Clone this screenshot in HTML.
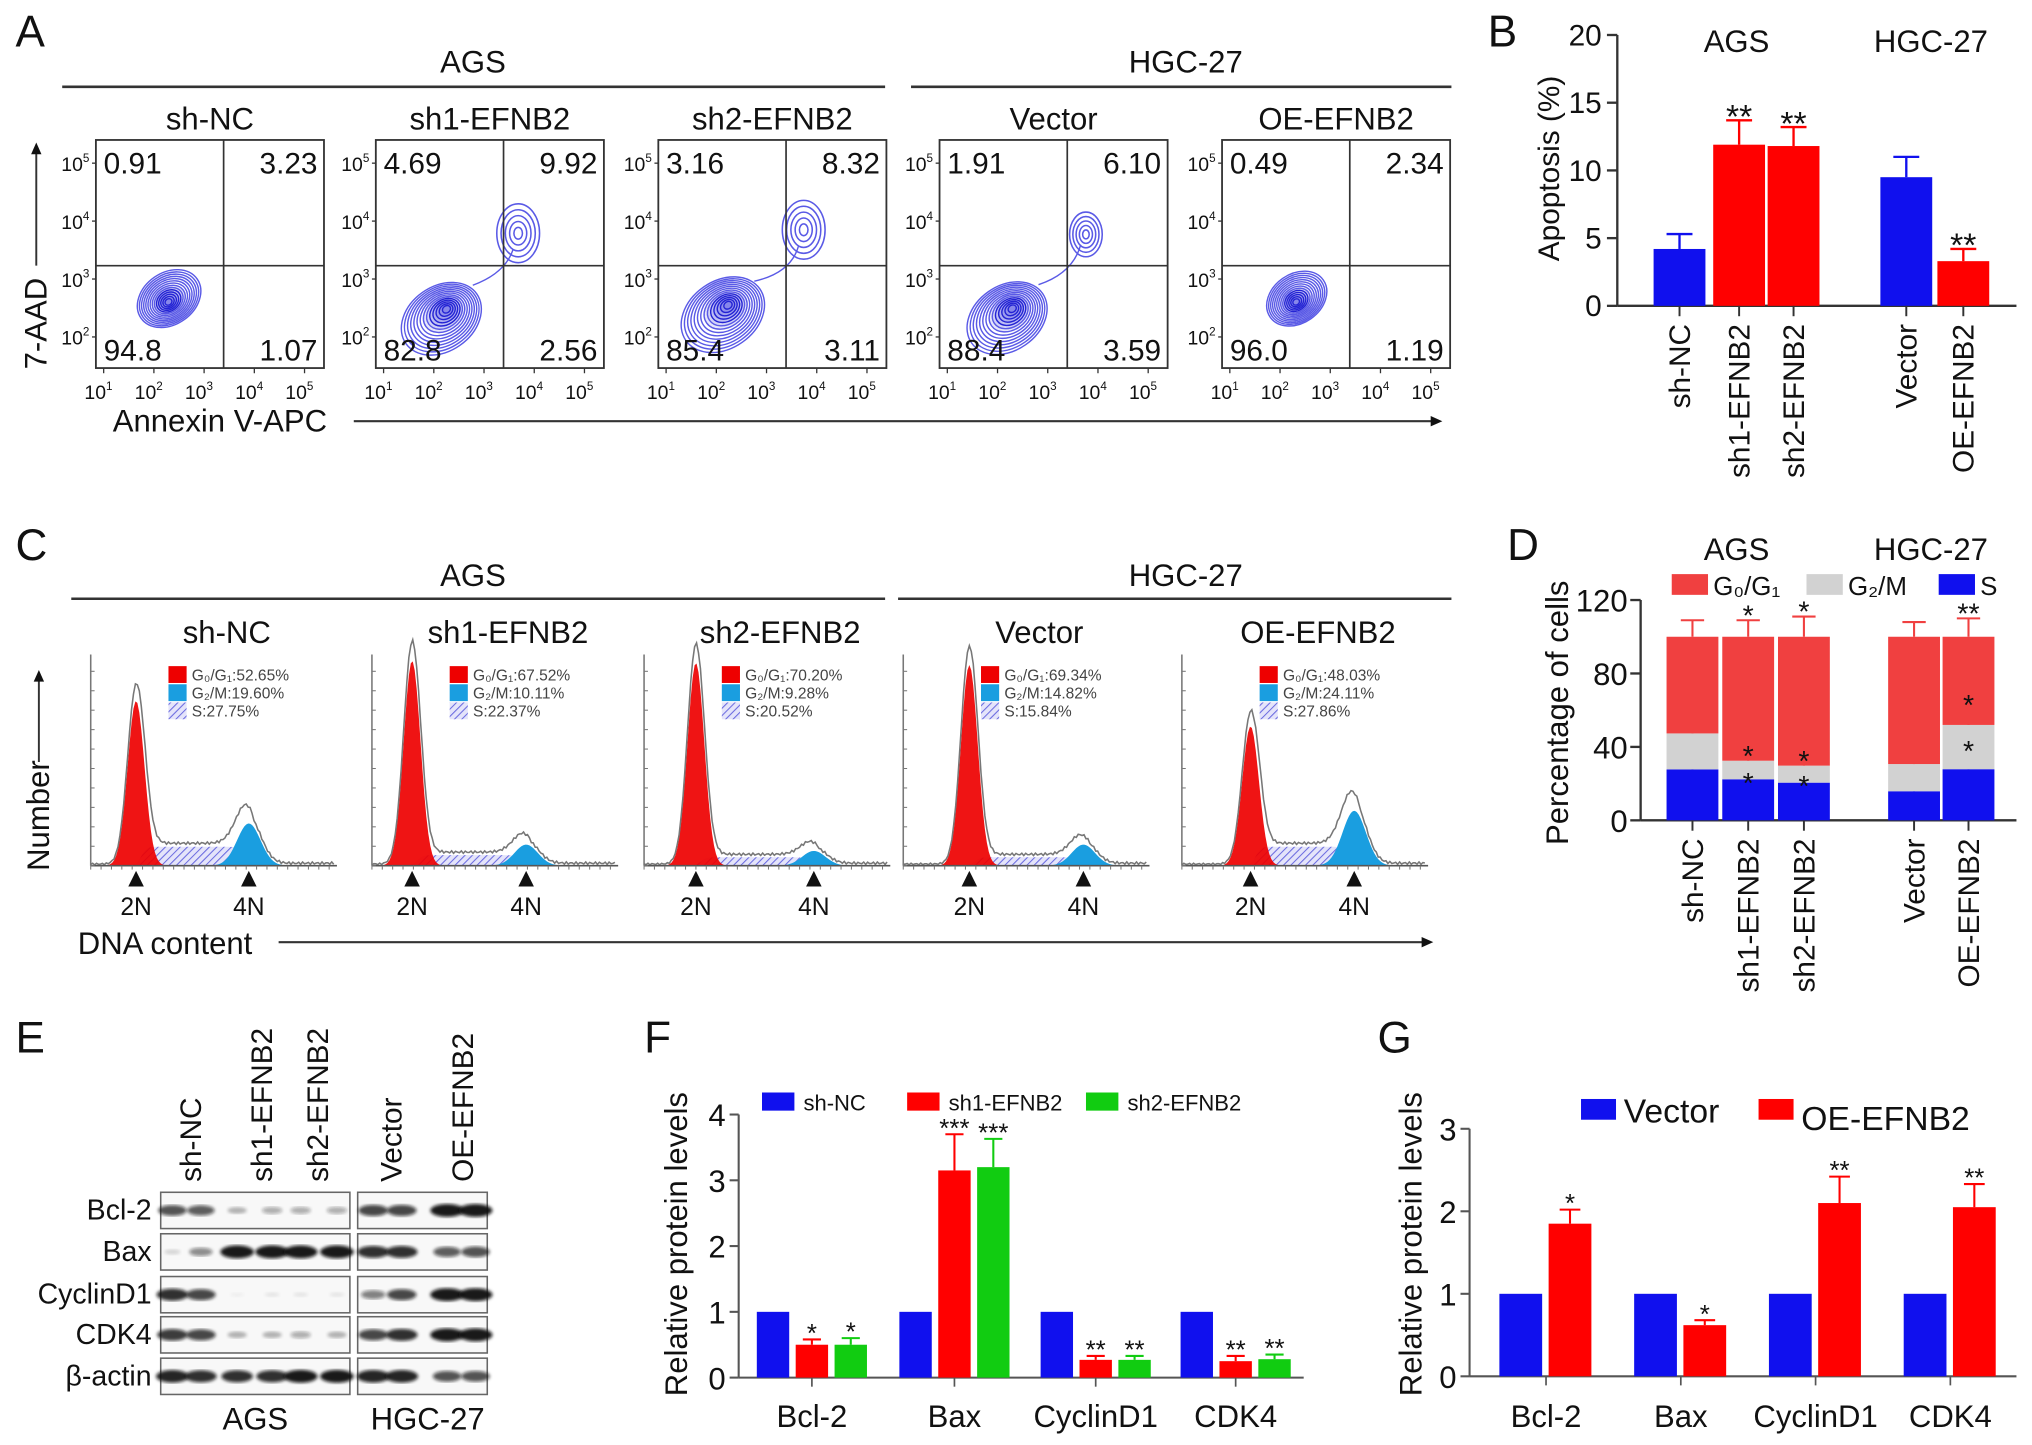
<!DOCTYPE html>
<html><head><meta charset="utf-8">
<style>
html,body{margin:0;padding:0;background:#fff;}
svg{display:block;font-family:"Liberation Sans Narrow","Liberation Sans",sans-serif;}
.n{font-family:"Liberation Sans",sans-serif;}
</style></head>
<body>
<svg id="fig" width="2032" height="1445" viewBox="0 0 1568 1115" preserveAspectRatio="none" xmlns="http://www.w3.org/2000/svg">
<defs>
<pattern id="hatch" patternUnits="userSpaceOnUse" width="4" height="4" patternTransform="rotate(45)">
<rect width="4" height="4" fill="#e4e4fa"/><line x1="0" y1="0" x2="0" y2="4" stroke="#6a6ae0" stroke-width="1.6"/>
</pattern>
<filter id="blur"><feGaussianBlur stdDeviation="1.3"/></filter>
</defs>
<g id="root"></g>
</svg>
<script>
// ---------- DATA ----------
const flowGroups = ["sh-NC","sh1-EFNB2","sh2-EFNB2","Vector","OE-EFNB2"];
const flowQuadUL = ["0.91","4.69","3.16","1.91","0.49"];
const flowQuadUR = ["3.23","9.92","8.32","6.10","2.34"];
const flowQuadLL = ["94.8","82.8","85.4","88.4","96.0"];
const flowQuadLR = ["1.07","2.56","3.11","3.59","1.19"];
const mainClusterX = [2.29,2.26,2.24,2.3,2.32];
const mainClusterY = [2.6,2.49,2.56,2.5,2.6];
const mainClusterSize = [0.55,0.8,0.85,0.8,0.5];
const lateClusterX = [null,3.68,3.74,3.76,null];
const lateClusterY = [null,3.79,3.85,3.77,null];
const lateClusterSize = [0,0.35,0.35,0.22,0];

const apopCats = ["sh-NC","sh1-EFNB2","sh2-EFNB2","Vector","OE-EFNB2"];
const apopVals = [4.2,11.9,11.8,9.5,3.3];
const apopErr = [1.1,1.8,1.4,1.5,0.9];
const apopSig = ["","**","**","","**"];
const apopTicks = [0,5,10,15,20];

const cycleG1Peak = [78,97,96,95,66];
const cycleG2Peak = [20,10,7,10,26];
const cycleSLevel = [9,5,4,4,9];
const cycleG1Text = ["52.65","67.52","70.20","69.34","48.03"];
const cycleG2Text = ["19.60","10.11","9.28","14.82","24.11"];
const cycleSText = ["27.75","22.37","20.52","15.84","27.86"];

const stackS = [27.75,22.37,20.52,15.84,27.86];
const stackG2 = [19.6,10.11,9.28,14.82,24.11];
const stackG1 = [52.65,67.52,70.2,69.34,48.03];
const stackErrS = [3,2.5,2.5,2,3];
const stackErrG2 = [3,2.5,2.5,3.5,4];
const stackErrG1 = [9,9,11,8,10];
const stackTicks = [0,40,80,120];

const protCats = ["Bcl-2","Bax","CyclinD1","CDK4"];
const fShNC = [1,1,1,1];
const fSh1 = [0.5,3.15,0.27,0.25];
const fSh2 = [0.5,3.2,0.27,0.28];
const fSh1Err = [0.08,0.55,0.06,0.08];
const fSh2Err = [0.1,0.43,0.06,0.07];
const fSh1Sig = ["*","***","**","**"];
const fSh2Sig = ["*","***","**","**"];
const fTicks = [0,1,2,3,4];

const gVector = [1,1,1,1];
const gOE = [1.85,0.62,2.1,2.05];
const gOEErr = [0.17,0.06,0.32,0.28];
const gSig = ["*","*","**","**"];
const gTicks = [0,1,2,3];

const blotRows = ["Bcl-2","Bax","CyclinD1","CDK4","β-actin"];
const blotAGS = [[0.75,0.7,0.3,0.35,0.35,0.35],[0.15,0.5,1,1,1,1],[0.9,0.8,0.04,0.08,0.08,0.08],[0.85,0.8,0.3,0.3,0.35,0.3],[0.95,0.9,0.9,0.9,1,1]];
const blotHGC = [[0.8,0.8,1,1],[0.9,0.9,0.7,0.75],[0.55,0.8,1,1],[0.8,0.9,1,1],[0.95,0.95,0.75,0.75]];

// ---------- HELPERS ----------
const NS="http://www.w3.org/2000/svg";
const root=document.getElementById('root');
function el(tag,attrs,parent,txt){const e=document.createElementNS(NS,tag);for(const k in attrs)e.setAttribute(k,attrs[k]);if(txt!==undefined)e.textContent=txt;(parent||root).appendChild(e);return e;}
function grp(name,parent){const g=el('g',{},parent);return g;}
function text(x,y,s,size,opt,parent){opt=opt||{};const a={x:x,y:y,'font-size':size,fill:opt.fill||'#111','text-anchor':opt.anchor||'start'};if(opt.cls)a['class']=opt.cls;if(opt.rot!==undefined)a.transform=`rotate(${opt.rot} ${x} ${y})`;const t=el('text',a,parent,s);return t;}
function line(x1,y1,x2,y2,parent,w,c){return el('line',{x1,y1,x2,y2,stroke:c||'#333','stroke-width':w||1.5},parent);}
function arrowHead(x,y,dir,parent){const p=dir==='up'?`${x-4},${y+9} ${x+4},${y+9} ${x},${y}`:`${x-9},${y-4} ${x-9},${y+4} ${x},${y}`;el('polygon',{points:p,fill:'#111'},parent);}

[["A",12,36],["B",1148,36],["C",12,432],["D",1163,432],["E",12,812],["F",497,812],["G",1063,812]].forEach(l=>text(l[1],l[2],l[0],34,{name:'panel-letter-'+l[0].toLowerCase(),cls:'n'}));

// ---------- PANEL A ----------
const gA=grp('panel-a-flow');
text(365,56,"AGS",24,{anchor:'middle',name:'ags-header'},gA);line(48,67,683,67,gA,2);
text(915,56,"HGC-27",24,{anchor:'middle',name:'hgc27-header'},gA);line(703,67,1120,67,gA,2);
const boxL=[74,290,508,725,943];
const bw=176,bTop=108,bBot=284;
flowGroups.forEach((name,i)=>{
  const g=grp('flow-plot-'+name.toLowerCase(),gA);
  const x0=boxL[i];
  const lx=l=>x0+6+(l-1)*38.75;
  const ly=l=>260-(l-2)*44.7;
  text(x0+bw/2,100,name,24,{anchor:'middle',name:'flow-title'},g);
  const cg=grp('contours',g);
  const cx=lx(mainClusterX[i]),cy=ly(mainClusterY[i]),s=mainClusterSize[i];
  for(let k=14;k>=1;k--){const f=k/14;
    el('ellipse',{cx:cx+(s>0.6?-8*f:2*f),cy:cy+(s>0.6?4*f:-2*f),rx:(10+28*s)*f+1,ry:(8+20*s)*f+1,fill:k<8?'#3a3ae0':'none','fill-opacity':0.12,stroke:k<6?'#2424d4':'#5a5ae6','stroke-width':1.1,transform:`rotate(-35 ${cx} ${cy})`},cg);}
  if(lateClusterX[i]!==null){const lx2=lx(lateClusterX[i]),ly2=ly(lateClusterY[i]),s2=lateClusterSize[i];
    for(let k=5;k>=1;k--){const f=k/5;el('ellipse',{cx:lx2,cy:ly2,rx:(6+30*s2)*f,ry:(8+42*s2)*f,fill:'none',stroke:'#5a5ae6','stroke-width':1.2},cg);}
    el('path',{d:`M${cx+20},${cy-18} Q${lx2-10},${ly(3.1)} ${lx2-4},${ly2+12*s2*3}`,fill:'none',stroke:'#5a5ae6','stroke-width':1.1},cg);}
  el('rect',{x:x0,y:bTop,width:bw,height:bBot-bTop,fill:'none',stroke:'#333','stroke-width':1.4},g);
  line(x0+bw*0.56,bTop,x0+bw*0.56,bBot,g,1.3);
  line(x0,205,x0+bw,205,g,1.3);
  ["5","4","3","2"].forEach((e,k)=>{const y=ly(5-k);const t=text(x0-5,y+6,"10",15,{anchor:'end',name:'y-tick-label'},g);el('tspan',{dy:-7,'font-size':9},t,e);line(x0-3,y,x0,y,g,1);});
  [1,2,3,4,5].forEach(e=>{const x=lx(e);const t=text(x-4,308,"10",15,{anchor:'middle',name:'x-tick-label'},g);el('tspan',{dy:-7,'font-size':9},t,String(e));line(x,bBot,x,bBot+4,g,1);});
  text(x0+6,134,flowQuadUL[i],23,{name:'quadrant-ul'},g);
  text(x0+bw-5,134,flowQuadUR[i],23,{anchor:'end',name:'quadrant-ur'},g);
  text(x0+6,278,flowQuadLL[i],23,{name:'quadrant-ll'},g);
  text(x0+bw-5,278,flowQuadLR[i],23,{anchor:'end',name:'quadrant-lr'},g);
});
text(87,333,"Annexin V-APC",24,{name:'x-axis-title-annexin'},gA);
line(273,325,1105,325,gA,1.6);arrowHead(1113,325,'right',gA);
text(36,285,"7-AAD",24,{rot:-90,name:'y-axis-title-7aad',cls:'n'},gA);
line(28,205,28,118,gA,1.5);arrowHead(28,110,'up',gA);

// ---------- PANEL B ----------
const gB=grp('panel-b-apoptosis');
const bY=v=>236-v*(236-27)/20;
const bX0=[1276,1322,1364,1451,1495],bBW=40;
line(1248,bY(0),1556,bY(0),gB,1.8);line(1248,bY(0),1248,bY(20),gB,1.8);
apopTicks.forEach(t=>{line(1240,bY(t),1248,bY(t),gB,1.8);text(1236,bY(t)+8,String(t),23,{anchor:'end',name:'y-tick-label',cls:'n'},gB);});
text(1203,130,"Apoptosis (%)",23,{anchor:'middle',rot:-90,name:'y-axis-title',cls:'n'},gB);
text(1340,40,"AGS",24,{anchor:'middle',name:'ags-label'},gB);text(1490,40,"HGC-27",24,{anchor:'middle',name:'hgc27-label'},gB);
apopCats.forEach((c,i)=>{
  const col=(i===0||i===3)?'#1010ee':'#ff0000';
  const x=bX0[i],cxm=x+bBW/2;
  const r=el('rect',{x:x,y:bY(apopVals[i]),width:bBW,height:bY(0)-bY(apopVals[i]),fill:col},gB);
  
  line(cxm,bY(apopVals[i]),cxm,bY(apopVals[i]+apopErr[i]),gB,1.8,col);
  line(cxm-10,bY(apopVals[i]+apopErr[i]),cxm+10,bY(apopVals[i]+apopErr[i]),gB,1.8,col);
  if(apopSig[i])text(cxm,bY(apopVals[i]+apopErr[i])+6,apopSig[i],26,{anchor:'middle',name:'significance',cls:'n'},gB);
  line(cxm,bY(0),cxm,bY(0)+8,gB,1.5);
  text(cxm+8,bY(0)+14,c,23,{anchor:'end',rot:-90,name:'x-tick-label',cls:'n'},gB);
});

// ---------- PANEL C ----------
const gC=grp('panel-c-cell-cycle');
text(365,452,"AGS",24,{anchor:'middle',name:'ags-header'},gC);line(55,462,683,462,gC,2);
text(915,452,"HGC-27",24,{anchor:'middle',name:'hgc27-header'},gC);line(693,462,1120,462,gC,2);
const hAxis=[70,287,497,697,912],h2N=[105,318,537,748,965],h4N=[192,406,628,836,1045];
const hBase=668,hTop=505;
const hY=v=>hBase-v*(hBase-hTop)/100;
flowGroups.forEach((name,i)=>{
  const g=grp('histogram-'+name.toLowerCase(),gC);
  const a=hAxis[i],p2=h2N[i],p4=h4N[i];
  text((a+a+190)/2+10,496,name,24,{anchor:'middle',name:'hist-title'},g);
  const xs=[];for(let x=a;x<=a+188;x+=1.5)xs.push(x);
  const g1=x=>cycleG1Peak[i]*Math.exp(-Math.pow((x-p2)/6.5,2)/2);
  const g2=x=>cycleG2Peak[i]*Math.exp(-Math.pow((x-p4)/9,2)/2);
  const sp=x=>(x>p2-4&&x<p4+4)?cycleSLevel[i]*(1/(1+Math.exp(-(x-p2-4)/2)))*(1/(1+Math.exp((x-p4)/3))):0;
  let dS=`M${xs[0]},${hBase}`;xs.forEach(x=>dS+=` L${x},${hY(sp(x))}`);dS+=` L${xs[xs.length-1]},${hBase}Z`;
  el('path',{d:dS,fill:'url(#hatch)'},g);
  let d1=`M${xs[0]},${hBase}`;xs.forEach(x=>d1+=` L${x},${hY(g1(x))}`);d1+=` L${xs[xs.length-1]},${hBase}Z`;
  el('path',{d:d1,fill:'#ee0000','fill-opacity':0.92},g);
  let d2=`M${xs[0]},${hBase}`;xs.forEach(x=>d2+=` L${x},${hY(g2(x))}`);d2+=` L${xs[xs.length-1]},${hBase}Z`;
  el('path',{d:d2,fill:'#1a9ee0'},g);
  let dO='';xs.forEach((x,k)=>{const v=g1(x)*1.08+g2(x)*1.1+sp(x)*1.05+ (x>p2?1.2:0.8)*(1+Math.sin(x*1.7)*0.5);dO+=(k?' L':'M')+x+','+hY(v);});
  el('path',{d:dO,fill:'none',stroke:'#777','stroke-width':1.2},g);
  line(a,hBase,a+190,hBase,g,1.3,'#555');line(a,hBase,a,hTop,g,1.2,'#777');
  for(let x=a;x<=a+190;x+=8)line(x,hBase,x,hBase+3,g,0.8,'#777');
  for(let y=hBase;y>=hTop;y-=15)line(a,y,a+3,y,g,0.8,'#777');
  [p2,p4].forEach((p,k)=>{el('polygon',{points:`${p-6},${hBase+16} ${p+6},${hBase+16} ${p},${hBase+4}`,fill:'#111'},g);text(p,706,k?"4N":"2N",19,{anchor:'middle',name:'ploidy-label'},g);});
  const lx=a+60;
  el('rect',{x:lx,y:514,width:14,height:13,fill:'#ee0000'},g);
  el('rect',{x:lx,y:528,width:14,height:13,fill:'#1a9ee0'},g);
  el('rect',{x:lx,y:542,width:14,height:13,fill:'url(#hatch)'},g);
  text(lx+18,525,"G₀/G₁:"+cycleG1Text[i]+"%",12,{name:'legend-g1',fill:'#444'},g);
  text(lx+18,539,"G₂/M:"+cycleG2Text[i]+"%",12,{name:'legend-g2m',fill:'#444'},g);
  text(lx+18,553,"S:"+cycleSText[i]+"%",12,{name:'legend-s',fill:'#444'},g);
});
text(60,736,"DNA content",24,{name:'x-axis-title-dna'},gC);
line(215,727,1098,727,gC,1.6);arrowHead(1106,727,'right',gC);
text(38,672,"Number",24,{rot:-90,name:'y-axis-title-number',cls:'n'},gC);
line(30,588,30,525,gC,1.5);arrowHead(30,517,'up',gC);

// ---------- PANEL D ----------
const gD=grp('panel-d-stacked');
const dY=v=>633-v*(633-463)/120;
const dX0=[1286,1329,1372,1457,1499],dBW=40;
line(1266,dY(0),1556,dY(0),gD,1.8);line(1266,dY(0),1266,dY(120),gD,1.8);
stackTicks.forEach(t=>{line(1258,dY(t),1266,dY(t),gD,1.8);text(1256,dY(t)+9,String(t),24,{anchor:'end',name:'y-tick-label',cls:'n'},gD);});
text(1210,550,"Percentage of cells",24,{anchor:'middle',rot:-90,name:'y-axis-title',cls:'n'},gD);
text(1340,432,"AGS",24,{anchor:'middle',name:'ags-label'},gD);text(1490,432,"HGC-27",24,{anchor:'middle',name:'hgc27-label'},gD);
[[1290,'#f04040','G₀/G₁'],[1394,'#d2d2d2','G₂/M'],[1496,'#1010ee','S']].forEach(l=>{const r=el('rect',{x:l[0],y:443,width:28,height:16,fill:l[1]},gD);text(l[0]+32,459,l[2],20,{name:'legend-label'},gD);});
apopCats.forEach((c,i)=>{
  const x=dX0[i],m=x+dBW/2;
  const segs=[[0,stackS[i],'#1010ee',stackErrS[i]],[stackS[i],stackS[i]+stackG2[i],'#d2d2d2',stackErrG2[i]],[stackS[i]+stackG2[i],stackS[i]+stackG2[i]+stackG1[i],'#f04040',stackErrG1[i]]];
  segs.forEach((s,k)=>{
    const r=el('rect',{x:x,y:dY(s[1]),width:dBW,height:dY(s[0])-dY(s[1]),fill:s[2]},gD);
    
    const ec=k===0?'#1010ee':'#f04040';
    line(m,dY(s[1]),m,dY(s[1]+s[3]),gD,1.6,ec);line(m-9,dY(s[1]+s[3]),m+9,dY(s[1]+s[3]),gD,1.6,ec);
  });
  if(i===1||i===2){text(m,dY(stackS[i]+stackErrS[i])+14,"*",22,{anchor:'middle',name:'sig'},gD);text(m,dY(stackS[i]+stackG2[i])+4,"*",22,{anchor:'middle',name:'sig'},gD);text(m,dY(100+stackErrG1[i])+4,"*",22,{anchor:'middle',name:'sig'},gD);}
  if(i===4){text(m,dY(stackS[i]+stackErrS[i])-2,"*",22,{anchor:'middle',name:'sig'},gD);text(m,dY(stackS[i]+stackG2[i]+stackErrG2[i])-2,"*",22,{anchor:'middle',name:'sig'},gD);text(m,dY(100+stackErrG1[i])+4,"**",22,{anchor:'middle',name:'sig'},gD);}
  line(m,dY(0),m,dY(0)+8,gD,1.5);
  text(m+8,dY(0)+14,c,23,{anchor:'end',rot:-90,name:'x-tick-label',cls:'n'},gD);
});

// ---------- PANEL E ----------
const gE=grp('panel-e-western-blot');
const rowY=[920,952,985,1016,1048],rowH=28;
const lanesA=[133,155,183,210,232,260],lanesH=[288,310,345,367];
blotRows.forEach((r,ri)=>{
  const y=rowY[ri];
  text(117,y+21,r,22,{anchor:'end',name:'blot-row-label'},gE);
  [[124,146,lanesA,blotAGS[ri]],[276,100,lanesH,blotHGC[ri]]].forEach(b=>{
    const bx=el('rect',{x:b[0],y:y,width:b[1],height:rowH,fill:'#f8f8f8',stroke:'#666','stroke-width':1.2},gE);
    
    b[2].forEach((lx,li)=>{const v=b[3][li];el('ellipse',{cx:lx,cy:y+rowH/2,rx:5+8*v,ry:1.5+3.5*v,fill:'#111','fill-opacity':Math.min(1,v*0.95),filter:'url(#blur)'},gE);});
  });
});
[["sh-NC",147],["sh1-EFNB2",202],["sh2-EFNB2",245],["Vector",302],["OE-EFNB2",357]].forEach(l=>text(l[1]+8,912,l[0],23,{rot:-90,name:'lane-label',cls:'n'},gE));
text(197,1103,"AGS",24,{anchor:'middle',name:'ags-label'},gE);text(330,1103,"HGC-27",24,{anchor:'middle',name:'hgc27-label'},gE);

// ---------- PANEL F ----------
const gF=grp('panel-f-bar');
const fY=v=>1063-v*(1063-860)/4;
const fX0=[584,694,803,911],fBW=25,fGap=30;
line(570,fY(0),1006,fY(0),gF,1.6,'#555');line(570,fY(0),570,fY(4),gF,1.6,'#555');
fTicks.forEach(t=>{line(563,fY(t),570,fY(t),gF,1.6,'#555');text(560,fY(t)+9,String(t),24,{anchor:'end',name:'y-tick-label',cls:'n'},gF);});
text(530,960,"Relative protein levels",24,{anchor:'middle',rot:-90,name:'y-axis-title',cls:'n'},gF);
[[588,'#1010ee','sh-NC'],[700,'#ff0000','sh1-EFNB2'],[838,'#11cc11','sh2-EFNB2']].forEach(l=>{const r=el('rect',{x:l[0],y:843,width:25,height:14,fill:l[1]},gF);text(l[0]+32,857,l[2],17,{name:'legend-label'},gF);});
protCats.forEach((c,i)=>{
  const x=fX0[i];
  [[fShNC[i],'#1010ee',0,0,''],[fSh1[i],'#ff0000',fSh1Err[i],1,fSh1Sig[i]],[fSh2[i],'#11cc11',fSh2Err[i],2,fSh2Sig[i]]].forEach(s=>{
    const bx=x+s[3]*fGap,m=bx+fBW/2;
    const r=el('rect',{x:bx,y:fY(s[0]),width:fBW,height:fY(0)-fY(s[0]),fill:s[1]},gF);
    
    if(s[2]){line(m,fY(s[0]),m,fY(s[0]+s[2]),gF,1.6,s[1]);line(m-7,fY(s[0]+s[2]),m+7,fY(s[0]+s[2]),gF,1.6,s[1]);text(m,fY(s[0]+s[2])+2,s[4],20,{anchor:'middle',name:'significance',cls:'n'},gF);}
  });
  const cm=x+fGap+fBW/2;line(cm,fY(0),cm,fY(0)+7,gF,1.3,'#555');
  text(cm,1101,c,24,{anchor:'middle',name:'x-tick-label'},gF);
});

// ---------- PANEL G ----------
const gG=grp('panel-g-bar');
const gY=v=>1062-v*(1062-871)/3;
const gX0=[1157,1261,1365,1469],gBW=33,gGap=38;
line(1134,gY(0),1556,gY(0),gG,1.6,'#555');line(1134,gY(0),1134,gY(3),gG,1.6,'#555');
gTicks.forEach(t=>{line(1127,gY(t),1134,gY(t),gG,1.6,'#555');text(1124,gY(t)+9,String(t),24,{anchor:'end',name:'y-tick-label',cls:'n'},gG);});
text(1097,960,"Relative protein levels",24,{anchor:'middle',rot:-90,name:'y-axis-title',cls:'n'},gG);
[[1220,'#1010ee','Vector',866],[1357,'#ff0000','OE-EFNB2',872]].forEach(l=>{const r=el('rect',{x:l[0],y:848,width:27,height:16,fill:l[1]},gG);text(l[0]+33,l[3],l[2],26,{name:'legend-label'},gG);});
protCats.forEach((c,i)=>{
  const x=gX0[i];
  const r1=el('rect',{x:x,y:gY(gVector[i]),width:gBW,height:gY(0)-gY(gVector[i]),fill:'#1010ee'},gG);
  
  const bx=x+gGap,m=bx+gBW/2;
  const r2=el('rect',{x:bx,y:gY(gOE[i]),width:gBW,height:gY(0)-gY(gOE[i]),fill:'#ff0000'},gG);
  
  line(m,gY(gOE[i]),m,gY(gOE[i]+gOEErr[i]),gG,1.6,'#ff0000');line(m-8,gY(gOE[i]+gOEErr[i]),m+8,gY(gOE[i]+gOEErr[i]),gG,1.6,'#ff0000');
  text(m,gY(gOE[i]+gOEErr[i])+2,gSig[i],20,{anchor:'middle',name:'significance',cls:'n'},gG);
  const cm=x+gGap-2;line(cm,gY(0),cm,gY(0)+7,gG,1.3,'#555');
  text(cm,1101,c,24,{anchor:'middle',name:'x-tick-label'},gG);
});
</script>
</body></html>
